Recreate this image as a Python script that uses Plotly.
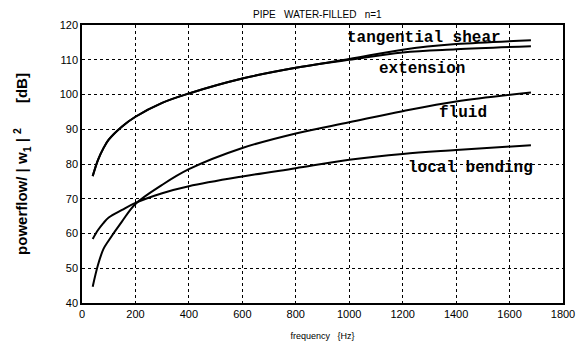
import plotly.graph_objects as go

freq = [40, 60, 80, 100, 150, 200, 300, 400, 600, 800, 1000, 1200, 1400, 1680]
tangential_shear = [76.5, 81.2, 84.5, 87.0, 90.8, 93.6, 97.6, 100.3, 104.6, 107.7, 110.2, 112.9, 114.5, 115.6]
extension = [76.5, 81.2, 84.5, 87.0, 90.8, 93.6, 97.6, 100.3, 104.6, 107.7, 110.0, 112.1, 113.0, 113.9]
fluid = [44.7, 51.0, 55.5, 58.0, 63.5, 68.5, 74.0, 78.5, 84.6, 88.8, 92.0, 95.2, 98.0, 100.6]
local_bending = [58.4, 61.0, 63.0, 64.6, 66.8, 68.8, 71.6, 73.6, 76.4, 78.8, 81.2, 82.9, 84.0, 85.4]

labels = ["tangential shear", "extension", "fluid", "local bending"]
label_x = [1280, 1272, 1425, 1452]
label_y = [116.4, 107.3, 94.6, 78.8]

title = "PIPE   WATER-FILLED   n=1"
x_title = "frequency   {Hz}"
y_title = "powerflow/ | w<sub>1</sub> | <sup>2</sup>      [dB]"

fig = go.Figure()
for ys in [tangential_shear, extension, fluid, local_bending]:
    fig.add_trace(go.Scatter(x=freq, y=ys, mode="lines",
                             line=dict(color="black", width=2, shape="spline", smoothing=1.0),
                             showlegend=False))

for t, x, y in zip(labels, label_x, label_y):
    fig.add_annotation(x=x, y=y, text="<b>" + t + "</b>", showarrow=False,
                       font=dict(family="Liberation Mono", size=16, color="black"))

fig.add_annotation(x=0.49, y=1.0, xref="paper", yref="paper", yanchor="middle", yshift=11,
                   text=title, showarrow=False,
                   font=dict(family="Liberation Sans", size=10, color="black"))

axis_common = dict(showline=True, linecolor="black", linewidth=1.5, mirror=True,
                   showgrid=True, gridcolor="black", griddash="dot", gridwidth=1,
                   zeroline=False, ticks="", tickfont=dict(family="Liberation Sans", size=11, color="black"))

fig.update_xaxes(range=[0, 1800], tickvals=list(range(0, 1801, 200)),
                 title=dict(text=x_title, font=dict(family="Liberation Sans", size=9, color="black"), standoff=14),
                 **axis_common)
fig.update_yaxes(range=[40, 120], tickvals=list(range(40, 121, 10)),
                 title=dict(text="<b>" + y_title + "</b>", font=dict(family="Liberation Sans", size=15, color="black"), standoff=28),
                 **axis_common)

fig.update_layout(width=587, height=352, margin=dict(l=82, r=14, t=25, b=46),
                  plot_bgcolor="white", paper_bgcolor="white")

fig.write_html("out.html")
